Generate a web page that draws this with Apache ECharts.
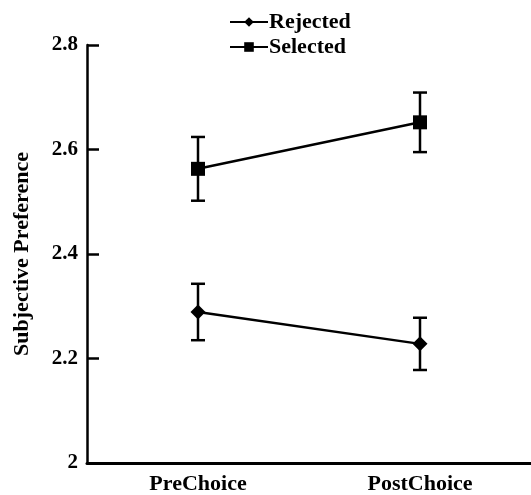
<!DOCTYPE html>
<html>
<head>
<meta charset="utf-8">
<script src="https://cdn.jsdelivr.net/npm/echarts@6/dist/echarts.min.js"></script>
<style>html,body{margin:0;padding:0;background:#fff;}#c{width:531px;height:495px;}</style>
</head>
<body>
<div id="c"></div>
<script>
var categories = ['PreChoice', 'PostChoice'];
var rejectedMean = [2.289, 2.228];
var rejectedErr = [0.054, 0.050];
var selectedMean = [2.563, 2.652];
var selectedErr = [0.061, 0.057];
var yTicks = [2, 2.2, 2.4, 2.6, 2.8];

var FONT = "'Liberation Serif', 'Times New Roman', serif";
var chart = echarts.init(document.getElementById('c'));

function errData(mean, err) {
  return mean.map(function (m, i) { return [i, m - err[i], m + err[i]]; });
}
function errRender(params, api) {
  var x = api.value(0);
  var lo = api.coord([x, api.value(1)]);
  var hi = api.coord([x, api.value(2)]);
  var w = 7;
  var st = { stroke: '#000', lineWidth: 2.5 };
  return {
    type: 'group',
    children: [
      { type: 'line', shape: { x1: lo[0], y1: lo[1], x2: hi[0], y2: hi[1] }, style: st },
      { type: 'line', shape: { x1: lo[0] - w, y1: lo[1], x2: lo[0] + w, y2: lo[1] }, style: st },
      { type: 'line', shape: { x1: hi[0] - w, y1: hi[1], x2: hi[0] + w, y2: hi[1] }, style: st }
    ]
  };
}

chart.setOption({
  animation: false,
  backgroundColor: '#fff',
  textStyle: { fontFamily: FONT, color: '#000' },
  legend: {
    orient: 'vertical',
    left: 224,
    top: 6,
    itemWidth: 38,
    itemHeight: 12,
    itemGap: 3,
    data: ['Rejected', 'Selected'],
    textStyle: { fontFamily: FONT, fontWeight: 'bold', fontSize: 22, color: '#000', padding: [0, 0, 0, -4] }
  },
  grid: { left: 87, top: 45, bottom: 29, right: -11, containLabel: false },
  xAxis: {
    type: 'category',
    data: categories,
    boundaryGap: true,
    axisLine: { lineStyle: { color: '#000', width: 3 } },
    axisTick: { inside: true, length: 8, lineStyle: { color: '#000', width: 2.5 } },
    axisLabel: { fontFamily: FONT, fontWeight: 'bold', fontSize: 22, color: '#000', margin: 10 }
  },
  yAxis: {
    type: 'value',
    min: 2,
    max: 2.8,
    interval: 0.2,
    name: 'Subjective Preference',
    nameLocation: 'middle',
    nameGap: 54,
    nameTextStyle: { fontFamily: FONT, fontWeight: 'bold', fontSize: 22, color: '#000' },
    axisLine: { show: true, lineStyle: { color: '#000', width: 2.5 } },
    axisTick: { show: true, inside: true, length: 12, lineStyle: { color: '#000', width: 2.5 } },
    splitLine: { show: false },
    axisLabel: {
      fontFamily: FONT, fontWeight: 'bold', fontSize: 21, color: '#000', margin: 9,
      formatter: function (v) { var r = Math.round(v * 10) / 10; return yTicks.indexOf(r) >= 0 ? String(r) : ''; }
    }
  },
  series: [
    {
      name: 'Rejected', type: 'line', data: rejectedMean,
      symbol: 'diamond', symbolSize: 15,
      itemStyle: { color: '#000' },
      lineStyle: { color: '#000', width: 2.5 },
      z: 3
    },
    {
      name: 'Selected', type: 'line', data: selectedMean,
      symbol: 'rect', symbolSize: 14,
      itemStyle: { color: '#000' },
      lineStyle: { color: '#000', width: 2.5 },
      z: 3
    },
    { type: 'custom', renderItem: errRender, data: errData(rejectedMean, rejectedErr), z: 2, silent: true },
    { type: 'custom', renderItem: errRender, data: errData(selectedMean, selectedErr), z: 2, silent: true }
  ]
});
</script>
</body>
</html>
